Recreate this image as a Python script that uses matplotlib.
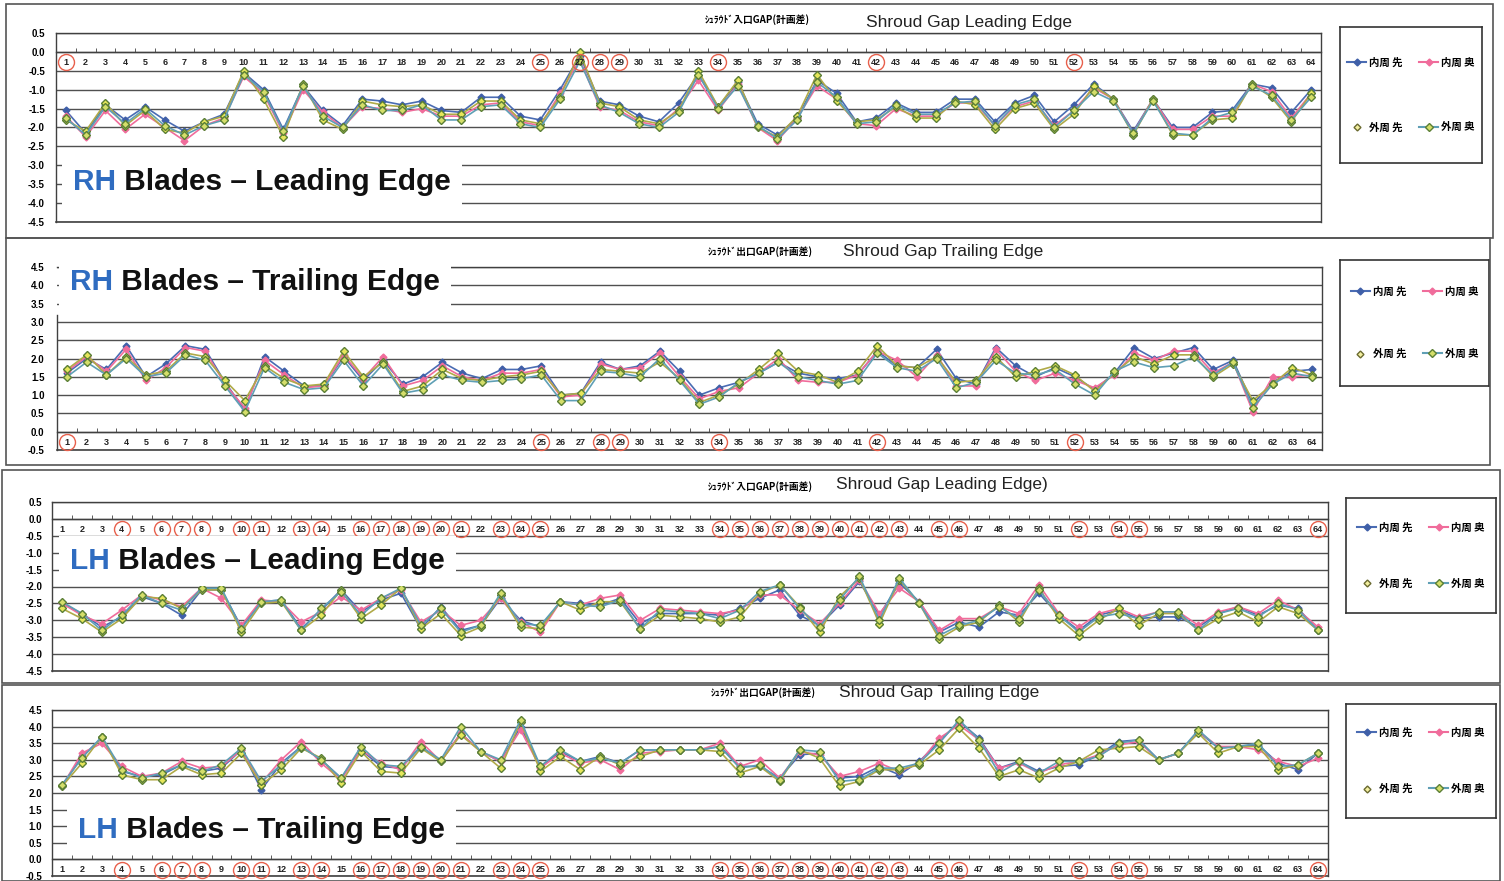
import matplotlib.pyplot as plt
import matplotlib.transforms as mtransforms
from matplotlib.lines import Line2D
from matplotlib.patches import Rectangle
from matplotlib.offsetbox import TextArea, HPacker, AnnotationBbox
import numpy as np

plt.rcParams['font.family'] = ['Liberation Sans', 'Noto Sans CJK JP', 'DejaVu Sans']

W, H = 1504, 881

series_names = ['内周 先', '内周 奥', '外周 先', '外周 奥']
blade_no = list(range(1, 65))

# RH blades, leading edge
rh_le_in_tip = [
    -1.55, -2.15, -1.40, -1.80, -1.45, -1.80, -2.10, -1.85, -1.65, -0.55, -1.00, -2.05, -0.90, -1.55, -1.95, -1.25,
    -1.30, -1.40, -1.30, -1.55, -1.60, -1.20, -1.20, -1.70, -1.80, -1.00, -0.10, -1.30, -1.40, -1.70, -1.85, -1.35,
    -0.60, -1.45, -0.80, -1.90, -2.20, -1.75, -0.75, -1.10, -1.85, -1.75, -1.35, -1.60, -1.60, -1.25, -1.25, -1.85,
    -1.35, -1.15, -1.85, -1.40, -0.85, -1.25, -2.10, -1.25, -2.00, -2.00, -1.60, -1.55, -0.85, -0.95, -1.60, -1.00]
rh_le_in_back = [
    -1.70, -2.25, -1.55, -2.05, -1.65, -2.00, -2.35, -1.95, -1.75, -0.65, -1.10, -2.15, -1.00, -1.60, -2.00, -1.45,
    -1.50, -1.60, -1.50, -1.70, -1.70, -1.40, -1.35, -1.85, -1.95, -1.10, -0.20, -1.45, -1.55, -1.85, -1.95, -1.50,
    -0.75, -1.55, -0.85, -2.00, -2.35, -1.75, -0.90, -1.25, -1.90, -1.95, -1.50, -1.70, -1.70, -1.35, -1.35, -1.95,
    -1.45, -1.30, -1.95, -1.55, -0.95, -1.25, -2.15, -1.25, -2.05, -2.05, -1.70, -1.70, -0.85, -1.05, -1.75, -1.10]
rh_le_out_tip = [
    -1.80, -2.10, -1.35, -1.95, -1.55, -2.05, -2.15, -1.85, -1.70, -0.50, -1.25, -2.25, -0.85, -1.80, -2.05, -1.30,
    -1.40, -1.45, -1.40, -1.65, -1.65, -1.30, -1.30, -1.80, -1.90, -1.20, 0.00, -1.35, -1.45, -1.80, -1.90, -1.55,
    -0.50, -1.45, -0.75, -2.00, -2.25, -1.70, -0.60, -1.30, -1.85, -1.80, -1.45, -1.75, -1.75, -1.30, -1.40, -2.05,
    -1.50, -1.35, -2.05, -1.65, -0.90, -1.25, -2.20, -1.25, -2.20, -2.20, -1.80, -1.75, -0.85, -1.20, -1.85, -1.10]
rh_le_out_back = [
    -1.75, -2.20, -1.45, -1.90, -1.50, -1.95, -2.20, -1.95, -1.80, -0.60, -1.05, -2.10, -0.90, -1.70, -2.00, -1.40,
    -1.55, -1.55, -1.40, -1.80, -1.80, -1.45, -1.40, -1.90, -2.00, -1.25, -0.25, -1.40, -1.60, -1.90, -2.00, -1.60,
    -0.60, -1.50, -0.90, -1.95, -2.30, -1.80, -0.80, -1.20, -1.90, -1.85, -1.40, -1.65, -1.65, -1.35, -1.30, -1.95,
    -1.40, -1.25, -2.00, -1.55, -1.05, -1.30, -2.15, -1.30, -2.15, -2.20, -1.75, -1.60, -0.90, -1.15, -1.80, -1.20]

# RH blades, trailing edge
rh_te_in_tip = [
    1.60, 2.00, 1.70, 2.35, 1.50, 1.85, 2.35, 2.25, 1.35, 0.60, 2.05, 1.65, 1.25, 1.25, 2.05, 1.40,
    1.95, 1.30, 1.50, 1.90, 1.60, 1.45, 1.70, 1.70, 1.80, 1.00, 1.05, 1.90, 1.70, 1.80, 2.20, 1.65,
    1.00, 1.20, 1.35, 1.60, 1.90, 1.60, 1.50, 1.45, 1.55, 2.20, 1.80, 1.75, 2.25, 1.45, 1.30, 2.30,
    1.80, 1.50, 1.75, 1.50, 1.15, 1.60, 2.30, 2.00, 2.15, 2.30, 1.70, 1.95, 0.75, 1.35, 1.65, 1.70]
rh_te_in_back = [
    1.65, 2.05, 1.65, 2.25, 1.40, 1.75, 2.30, 2.20, 1.30, 0.65, 1.95, 1.55, 1.20, 1.25, 2.10, 1.45,
    2.05, 1.25, 1.40, 1.80, 1.50, 1.40, 1.60, 1.60, 1.70, 0.95, 1.00, 1.85, 1.70, 1.75, 2.15, 1.50,
    0.90, 1.10, 1.20, 1.60, 2.00, 1.40, 1.35, 1.35, 1.55, 2.20, 1.95, 1.50, 2.10, 1.25, 1.25, 2.25,
    1.65, 1.40, 1.60, 1.40, 1.20, 1.55, 2.15, 1.95, 2.20, 2.20, 1.60, 1.90, 0.55, 1.50, 1.50, 1.55]
rh_te_out_tip = [
    1.70, 2.10, 1.55, 2.05, 1.55, 1.65, 2.15, 2.05, 1.40, 0.85, 1.80, 1.45, 1.25, 1.30, 2.20, 1.50,
    1.90, 1.10, 1.25, 1.70, 1.45, 1.40, 1.50, 1.55, 1.65, 1.00, 1.05, 1.70, 1.65, 1.60, 1.90, 1.45,
    0.80, 1.00, 1.30, 1.70, 2.15, 1.65, 1.55, 1.35, 1.65, 2.35, 1.80, 1.75, 2.05, 1.35, 1.40, 2.05,
    1.50, 1.65, 1.80, 1.55, 1.10, 1.60, 2.05, 1.85, 2.10, 2.10, 1.50, 1.85, 0.85, 1.30, 1.75, 1.55]
rh_te_out_back = [
    1.50, 1.90, 1.55, 2.00, 1.50, 1.60, 2.10, 1.95, 1.25, 0.55, 1.75, 1.35, 1.15, 1.20, 1.95, 1.25,
    1.85, 1.05, 1.15, 1.55, 1.40, 1.35, 1.40, 1.45, 1.55, 0.85, 0.85, 1.65, 1.60, 1.50, 2.00, 1.40,
    0.75, 0.95, 1.35, 1.60, 1.90, 1.50, 1.40, 1.30, 1.40, 2.15, 1.75, 1.65, 2.00, 1.20, 1.35, 1.95,
    1.60, 1.55, 1.70, 1.30, 1.00, 1.65, 1.90, 1.75, 1.80, 2.05, 1.55, 1.90, 0.65, 1.30, 1.60, 1.50]

# LH blades, leading edge
lh_le_in_tip = [
    -2.50, -2.80, -3.20, -2.90, -2.30, -2.50, -2.85, -2.10, -2.10, -3.20, -2.45, -2.40, -3.25, -2.70, -2.10, -2.75,
    -2.40, -2.20, -3.25, -2.60, -3.30, -3.15, -2.35, -3.00, -3.20, -2.45, -2.50, -2.55, -2.35, -3.10, -2.80, -2.80,
    -2.80, -2.85, -2.65, -2.35, -2.10, -2.85, -3.15, -2.55, -1.85, -2.85, -1.90, -2.45, -3.35, -3.05, -3.20, -2.75,
    -2.85, -2.20, -2.85, -3.30, -2.85, -2.70, -2.95, -2.90, -2.90, -3.20, -2.80, -2.60, -2.85, -2.55, -2.65, -3.30]
lh_le_in_back = [
    -2.50, -2.85, -3.10, -2.70, -2.25, -2.40, -2.60, -2.05, -2.35, -3.15, -2.40, -2.45, -3.05, -2.75, -2.30, -2.70,
    -2.35, -2.10, -3.05, -2.70, -3.15, -3.00, -2.35, -3.05, -3.35, -2.45, -2.55, -2.35, -2.25, -3.00, -2.65, -2.70,
    -2.75, -2.80, -2.70, -2.25, -2.25, -2.70, -3.10, -2.50, -1.80, -2.80, -2.05, -2.45, -3.30, -2.95, -2.95, -2.60,
    -2.80, -1.95, -2.80, -3.20, -2.80, -2.65, -2.90, -2.75, -2.75, -3.15, -2.75, -2.60, -2.80, -2.40, -2.70, -3.20]
lh_le_out_tip = [
    -2.65, -2.95, -3.35, -2.95, -2.30, -2.35, -2.65, -2.10, -2.10, -3.35, -2.50, -2.45, -3.30, -2.85, -2.10, -2.95,
    -2.55, -2.05, -3.25, -2.80, -3.45, -3.20, -2.25, -3.20, -3.25, -2.45, -2.70, -2.45, -2.45, -3.25, -2.85, -2.90,
    -2.95, -3.05, -2.90, -2.20, -1.95, -2.60, -3.35, -2.30, -1.75, -3.10, -1.80, -2.50, -3.55, -3.20, -3.05, -2.55,
    -3.05, -2.05, -2.95, -3.45, -3.00, -2.65, -3.15, -2.80, -2.80, -3.30, -2.95, -2.75, -3.05, -2.60, -2.80, -3.30]
lh_le_out_back = [
    -2.45, -2.80, -3.30, -2.85, -2.25, -2.50, -2.70, -2.05, -2.05, -3.25, -2.45, -2.40, -3.30, -2.65, -2.15, -2.85,
    -2.35, -2.05, -3.15, -2.65, -3.35, -3.15, -2.20, -3.10, -3.15, -2.45, -2.55, -2.60, -2.40, -3.25, -2.70, -2.75,
    -2.80, -2.95, -2.70, -2.15, -1.95, -2.65, -3.20, -2.40, -1.70, -3.00, -1.75, -2.50, -3.45, -3.15, -3.00, -2.60,
    -2.95, -2.10, -2.85, -3.35, -2.90, -2.80, -2.95, -2.75, -2.75, -3.30, -2.80, -2.65, -2.90, -2.50, -2.70, -3.30]

# LH blades, trailing edge
lh_te_in_tip = [
    2.20, 3.10, 3.65, 2.65, 2.50, 2.55, 2.85, 2.65, 2.75, 3.30, 2.10, 2.90, 3.40, 3.00, 2.45, 3.30,
    2.80, 2.75, 3.40, 2.95, 3.80, 3.25, 2.95, 4.00, 2.80, 3.25, 2.95, 3.10, 2.90, 3.30, 3.30, 3.30,
    3.30, 3.40, 2.80, 2.80, 2.45, 3.15, 3.20, 2.45, 2.50, 2.80, 2.55, 2.95, 3.55, 4.15, 3.65, 2.75,
    2.95, 2.65, 2.80, 2.85, 3.15, 3.55, 3.60, 3.00, 3.20, 3.85, 3.35, 3.40, 3.45, 2.90, 2.70, 3.20]
lh_te_in_back = [
    2.20, 3.20, 3.50, 2.80, 2.50, 2.60, 2.95, 2.75, 2.80, 3.30, 2.30, 3.00, 3.55, 2.90, 2.40, 3.30,
    2.90, 2.70, 3.55, 2.95, 3.80, 3.25, 2.95, 3.90, 2.75, 3.20, 2.90, 3.00, 2.70, 3.20, 3.25, 3.30,
    3.30, 3.50, 2.80, 3.00, 2.45, 3.25, 3.15, 2.50, 2.65, 2.90, 2.65, 2.90, 3.65, 4.05, 3.60, 2.75,
    2.90, 2.60, 2.85, 2.95, 3.15, 3.45, 3.55, 3.00, 3.20, 3.85, 3.40, 3.40, 3.30, 2.95, 2.80, 3.05]
lh_te_out_tip = [
    2.20, 2.90, 3.70, 2.55, 2.40, 2.40, 2.80, 2.55, 2.60, 3.20, 2.25, 2.70, 3.35, 3.05, 2.30, 3.25,
    2.65, 2.60, 3.35, 2.95, 3.75, 3.25, 2.75, 4.15, 2.65, 3.10, 2.70, 3.10, 2.85, 3.10, 3.30, 3.30,
    3.30, 3.25, 2.60, 2.80, 2.35, 3.30, 3.05, 2.20, 2.35, 2.70, 2.70, 2.85, 3.30, 3.95, 3.35, 2.50,
    2.70, 2.45, 2.75, 2.95, 3.30, 3.35, 3.40, 3.00, 3.20, 3.80, 3.20, 3.40, 3.40, 2.70, 2.85, 3.20]
lh_te_out_back = [
    2.25, 3.05, 3.70, 2.70, 2.45, 2.60, 2.85, 2.65, 2.85, 3.35, 2.35, 2.85, 3.40, 3.00, 2.45, 3.40,
    2.85, 2.80, 3.40, 3.00, 4.00, 3.25, 3.00, 4.20, 2.80, 3.30, 2.95, 3.05, 2.90, 3.30, 3.30, 3.30,
    3.30, 3.40, 2.75, 2.85, 2.40, 3.30, 3.25, 2.35, 2.40, 2.75, 2.75, 2.90, 3.50, 4.20, 3.60, 2.60,
    2.95, 2.60, 2.95, 2.95, 3.10, 3.50, 3.60, 3.00, 3.20, 3.90, 3.35, 3.40, 3.50, 2.80, 2.85, 3.20]

# blade numbers circled in red
rh_le_marked = [1, 25, 27, 28, 29, 34, 42, 52]
rh_te_marked = [1, 25, 28, 29, 34, 42, 52]
lh_marked = [4, 6, 7, 8, 10, 11, 13, 14, 16, 17, 18, 19, 20, 21, 23, 24, 25,
             34, 35, 36, 37, 38, 39, 40, 41, 42, 43, 45, 46, 52, 54, 55, 64]

styles = [
    dict(color='#4a6cb3', marker='D', ms=3.5, mfc='#3f5fa8', mec='#3f5fa8'),
    dict(color='#f06c9b', marker='D', ms=3.5, mfc='#f06c9b', mec='#f06c9b'),
    dict(color='#b0aa48', marker='D', ms=4.5, mfc='#e6e65a', mec='#5b7f35'),
    dict(color='#5f9fb5', marker='D', ms=4.5, mfc='#d4de6a', mec='#5b7f35'),
]
BLUE = '#2f6cc0'
GRID = '#505050'


def fig_rect(x0, y0, x1, y1):
    return [x0 / W, 1 - y1 / H, (x1 - x0) / W, (y1 - y0) / H]


def fx(x):
    return x / W


def fy(y):
    return 1 - y / H


def draw_panel(fig, p):
    ax = fig.add_axes(fig_rect(*p['plot']))
    x = np.arange(len(blade_no))
    for vals, st in zip(p['values'], styles):
        ax.plot(x, vals, lw=1.2, zorder=3, clip_on=False, **st)

    lo, hi = p['ylim']
    ax.set_xlim(-0.5, len(blade_no) - 0.5)
    ax.set_ylim(lo, hi)
    ax.set_yticks(np.arange(lo, hi + 0.01, 0.5))
    ax.yaxis.set_major_formatter(lambda v, pos: f'{v:.1f}')
    ax.grid(axis='y', color=GRID, lw=1.0)
    ax.set_axisbelow(True)
    ax.tick_params(axis='y', length=0, labelsize=7, pad=p['ypad'])
    for lbl in ax.get_yticklabels():
        lbl.set_fontweight('bold')

    for s in ax.spines.values():
        s.set_color('#404040')
        s.set_linewidth(1.0)
    ax.spines['bottom'].set_position(('data', 0))
    ax.axhline(lo, color='#404040', lw=1.2, clip_on=False, zorder=2.5)
    if p.get('spine_top') is not None:
        ax.spines['left'].set_bounds(lo, p['spine_top'])

    ax.set_xticks(x)
    ax.set_xticks(np.arange(-0.5, len(blade_no), 1), minor=True)
    ax.tick_params(axis='x', which='major', length=0, labelbottom=False)
    ax.tick_params(axis='x', which='minor', direction='in', length=3, color='#404040')

    trans = mtransforms.offset_copy(ax.transData, fig=fig, y=-7.5, units='points')
    for i, n in zip(x, blade_no):
        ax.text(i, 0, str(n), transform=trans, ha='center', va='center',
                fontsize=6.5, fontweight='bold', color='#222222', zorder=4)
    mk = [blade_no.index(n) for n in p['marked']]
    ax.plot(mk, np.zeros(len(mk)), transform=trans, ls='none', marker='o', ms=11.5,
            mfc='none', mec='#e8604c', mew=1.0, clip_on=False, zorder=4)

    # chart titles
    fig.text(fx(p['jp_xy'][0]), fy(p['jp_xy'][1]), p['jp_title'], ha='center', va='center',
             fontsize=7, fontweight='bold', family=['Noto Sans CJK JP'])
    fig.text(fx(p['en_xy'][0]), fy(p['en_xy'][1]), p['en_title'], ha='left', va='center',
             fontsize=12.5, color='#222222')

    # big blade label on a white patch
    big_props = dict(fontsize=21.5, fontweight='bold')
    pack = HPacker(children=[TextArea(p['side'], textprops=dict(color=BLUE, **big_props)),
                             TextArea(' ' + p['big'], textprops=dict(color='#111111', **big_props))],
                   sep=0, pad=0, align='baseline')
    ab = AnnotationBbox(pack, (fx(p['big_xy'][0]), fy(p['big_xy'][1])),
                        xycoords='figure fraction', box_alignment=(0, 0.5), pad=0.8,
                        frameon=True, bboxprops=dict(facecolor='white', edgecolor='none'),
                        zorder=5)
    fig.add_artist(ab)

    # legend box
    lax = fig.add_axes(fig_rect(*p['legend']))
    lax.set_xticks([])
    lax.set_yticks([])
    for s in lax.spines.values():
        s.set_color('#333333')
        s.set_linewidth(1.2)
    handles = [Line2D([], [], lw=1.5, **st) for st in styles]
    handles[2] = Line2D([], [], ls='none', marker='D', ms=3.5, mfc='#f4f0a0', mec='#6a6a30')
    order = [0, 2, 1, 3]
    lax.legend([handles[k] for k in order], [series_names[k] for k in order],
               loc='center', ncol=2, frameon=False, labelspacing=p['lspace'],
               columnspacing=1.6, handlelength=1.8, handletextpad=0.3,
               prop=dict(family='Noto Sans CJK JP', weight='bold', size=7.5))

    # outer chart frame
    x0, y0, x1, y1 = p['frame']
    fig.add_artist(Rectangle((fx(x0), fy(y1)), (x1 - x0) / W, (y1 - y0) / H,
                             transform=fig.transFigure, fill=False, ec='#555555', lw=1.2))


panels = [
    dict(values=[rh_le_in_tip, rh_le_in_back, rh_le_out_tip, rh_le_out_back],
         ylim=(-4.5, 0.5), plot=(56, 33, 1321, 222), ypad=8, marked=rh_le_marked,
         jp_title='ｼｭﾗｳﾄﾞ入口GAP(計画差)', jp_xy=(757, 20),
         en_title='Shroud Gap Leading Edge', en_xy=(866, 22),
         side='RH', big='Blades – Leading Edge', big_xy=(73, 182),
         legend=(1340, 27, 1482, 163), lspace=5.2, frame=(6, 4, 1493, 238)),
    dict(values=[rh_te_in_tip, rh_te_in_back, rh_te_out_tip, rh_te_out_back],
         ylim=(-0.5, 4.5), plot=(57, 267, 1322, 450), ypad=9, marked=rh_te_marked,
         spine_top=3.2,
         jp_title='ｼｭﾗｳﾄﾞ出口GAP(計画差)', jp_xy=(760, 252),
         en_title='Shroud Gap Trailing Edge', en_xy=(843, 251),
         side='RH', big='Blades – Trailing Edge', big_xy=(70, 282),
         legend=(1340, 260, 1489, 386), lspace=5.0, frame=(6, 238, 1490, 465)),
    dict(values=[lh_le_in_tip, lh_le_in_back, lh_le_out_tip, lh_le_out_back],
         ylim=(-4.5, 0.5), plot=(52, 502, 1328, 671), ypad=7, marked=lh_marked,
         jp_title='ｼｭﾗｳﾄﾞ入口GAP(計画差)', jp_xy=(760, 487),
         en_title='Shroud Gap Leading Edge)', en_xy=(836, 484),
         side='LH', big='Blades – Leading Edge', big_xy=(70, 561),
         legend=(1346, 498, 1496, 613), lspace=4.4, frame=(2, 470, 1500, 683)),
    dict(values=[lh_te_in_tip, lh_te_in_back, lh_te_out_tip, lh_te_out_back],
         ylim=(-0.5, 4.5), plot=(52, 710, 1328, 876), ypad=7, marked=lh_marked,
         jp_title='ｼｭﾗｳﾄﾞ出口GAP(計画差)', jp_xy=(763, 693),
         en_title='Shroud Gap Trailing Edge', en_xy=(839, 692),
         side='LH', big='Blades – Trailing Edge', big_xy=(78, 830),
         legend=(1346, 704, 1496, 818), lspace=4.4, frame=(2, 685, 1500, 881)),
]


def main():
    fig = plt.figure(figsize=(W / 100, H / 100), dpi=100)
    fig.patch.set_facecolor('white')
    for p in panels:
        draw_panel(fig, p)
    fig.savefig('out.png', dpi=100, facecolor='white')


if __name__ == "__main__":
    main()
